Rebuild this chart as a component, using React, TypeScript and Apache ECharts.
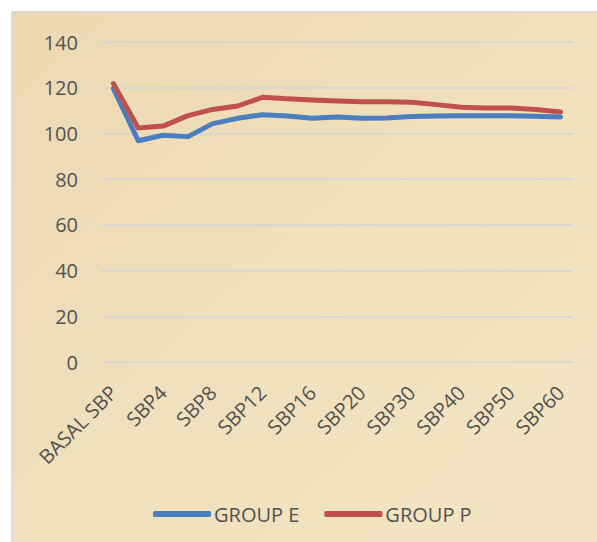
import React, { useEffect, useRef } from "react";
import * as echarts from "echarts";

const categories = [
  "BASAL SBP", "SBP2", "SBP4", "SBP6", "SBP8", "SBP10", "SBP12", "SBP14", "SBP16", "SBP18",
  "SBP20", "SBP25", "SBP30", "SBP35", "SBP40", "SBP45", "SBP50", "SBP55", "SBP60",
];
const groupE = [119.6, 96.8, 99.2, 98.6, 104.3, 106.6, 108.2, 107.6, 106.6, 107.2, 106.6, 106.7, 107.4, 107.6, 107.7, 107.7, 107.7, 107.5, 107.2];
const groupP = [121.8, 102.4, 103.2, 107.8, 110.5, 112.0, 115.8, 115.2, 114.6, 114.2, 113.9, 113.9, 113.6, 112.6, 111.5, 111.1, 111.1, 110.5, 109.4];
const seriesNames = ["GROUP E", "GROUP P"];
const yTicks = { min: 0, max: 140, interval: 20 };

const FONT = "'Open Sans', 'Noto Sans', sans-serif";
const TEXT = "#525252";

export default function App() {
  const ref = useRef<HTMLDivElement>(null);
  useEffect(() => {
    if (!ref.current) return;
    const chart = echarts.init(ref.current, null, { renderer: "svg" });
    chart.setOption({
      animation: false,
      backgroundColor: "#ffffff",
      textStyle: { fontFamily: FONT },
      graphic: [
        {
          type: "rect",
          z: -10,
          silent: true,
          shape: { x: 12, y: 12, width: 600, height: 540 },
          style: {
            fill: new echarts.graphic.LinearGradient(0, 0, 1, 1, [
              { offset: 0, color: "#ecd9b2" },
              { offset: 0.5, color: "#f0e0bd" },
              { offset: 1, color: "#f3e5c4" },
            ]),
            stroke: "#d3d3d3",
            lineWidth: 1.5,
          },
        },
      ],
      grid: { left: 101, right: 24, top: 42, bottom: 180, containLabel: false },
      xAxis: {
        type: "category",
        data: categories,
        boundaryGap: true,
        axisLine: { show: false },
        axisTick: { show: false },
        axisLabel: {
          interval: 1,
          rotate: 45,
          fontSize: 20,
          color: TEXT,
          fontFamily: FONT,
          margin: 27,
        },
      },
      yAxis: {
        type: "value",
        min: yTicks.min,
        max: yTicks.max,
        interval: yTicks.interval,
        axisLine: { show: false },
        axisTick: { show: false },
        axisLabel: { fontSize: 20, color: TEXT, fontFamily: FONT, margin: 23 },
        splitLine: { lineStyle: { color: "#d2d4d6", width: 1.5 } },
      },
      legend: {
        left: 148,
        top: 499,
        itemWidth: 58,
        itemHeight: 6,
        itemGap: 25,
        icon: "roundRect",
        textStyle: { fontSize: 20, color: TEXT, fontFamily: FONT, padding: [0, 0, 0, -2] },
        data: seriesNames,
      },
      series: [
        {
          name: seriesNames[0],
          type: "line",
          data: groupE,
          symbol: "none",
          lineStyle: { color: "#4a7ebf", width: 5, cap: "round", join: "round" },
          itemStyle: { color: "#4a7ebf" },
        },
        {
          name: seriesNames[1],
          type: "line",
          data: groupP,
          symbol: "none",
          lineStyle: { color: "#c0504d", width: 5, cap: "round", join: "round" },
          itemStyle: { color: "#c0504d" },
        },
      ],
    });
    return () => chart.dispose();
  }, []);
  return (
    <div
      ref={ref}
      style={{ position: "absolute", left: 0, top: 0, width: 597, height: 542 }}
    />
  );
}
